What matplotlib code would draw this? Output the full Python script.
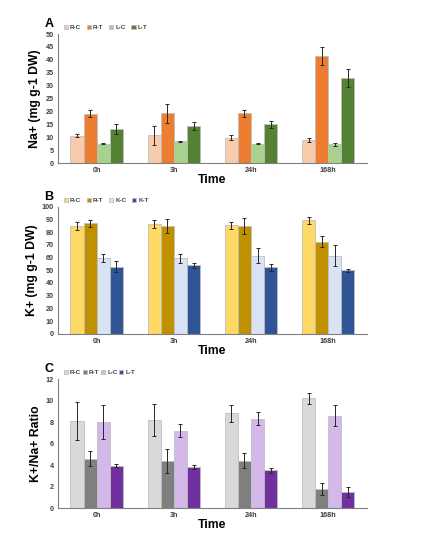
import matplotlib
matplotlib.use("Agg")
import matplotlib.pyplot as plt
import numpy as np

plt.rcParams['font.family'] = ['Liberation Sans', 'DejaVu Sans']

times = ["0h", "3h", "24h", "168h"]

# Panel A: Na+
na_labels = ["R-C", "R-T", "L-C", "L-T"]
na_vals = [
    [10.6, 10.7, 9.8, 8.9],
    [19.1, 19.3, 19.3, 41.4],
    [7.5, 8.4, 7.5, 7.2],
    [13.3, 14.4, 15.0, 32.8],
]
na_errs = [
    [0.6, 3.7, 0.9, 0.8],
    [1.4, 3.6, 1.4, 3.5],
    [0.2, 0.2, 0.3, 0.7],
    [1.9, 1.4, 1.3, 3.5],
]
na_colors = ["#F8CBAD", "#ED7D31", "#A9D18E", "#548235"]

# Panel B: K+
k_labels = ["R-C", "R-T", "K-C", "K-T"]
k_vals = [
    [84.9, 86.7, 85.4, 89.3],
    [86.9, 84.9, 84.9, 72.6],
    [59.5, 59.3, 61.4, 61.6],
    [52.7, 54.0, 52.2, 49.9],
]
k_errs = [
    [3.2, 3.2, 2.9, 2.9],
    [3.1, 5.7, 6.0, 4.2],
    [3.2, 3.9, 6.0, 8.4],
    [4.3, 1.9, 2.4, 1.3],
]
k_colors = ["#FFD966", "#BF9000", "#DAE3F3", "#2F5597"]

# Panel C: K+/Na+ ratio
r_labels = ["R-C", "R-T", "L-C", "L-T"]
r_vals = [
    [8.1, 8.2, 8.8, 10.2],
    [4.6, 4.4, 4.4, 1.76],
    [8.0, 7.2, 8.3, 8.6],
    [3.96, 3.8, 3.5, 1.5],
]
r_errs = [
    [1.8, 1.5, 0.8, 0.5],
    [0.7, 1.1, 0.7, 0.55],
    [1.6, 0.6, 0.6, 1.0],
    [0.15, 0.2, 0.25, 0.5],
]
r_colors = ["#D9D9D9", "#7F7F7F", "#D5B8EA", "#7030A0"]

fig = plt.figure(figsize=(4.27, 5.40), dpi=100)

panels = [
    ("A", [0.136, 0.698, 0.723, 0.239], na_labels, na_vals, na_errs, na_colors,
     "Na+ (mg g-1 DW)", 50, 5),
    ("B", [0.136, 0.382, 0.723, 0.235], k_labels, k_vals, k_errs, k_colors,
     "K+ (mg g-1 DW)", 100, 10),
    ("C", [0.136, 0.059, 0.723, 0.239], r_labels, r_vals, r_errs, r_colors,
     "K+/Na+ Ratio", 12, 2),
]

x = np.arange(len(times))
bw = 0.17
for letter, rect, labels, vals, errs, colors, ylab, ymax, ystep in panels:
    ax = fig.add_axes(rect)
    for i in range(4):
        ax.bar(x + (i - 1.5) * bw, vals[i], bw, yerr=errs[i], color=colors[i],
               edgecolor="#BFBFBF", linewidth=0.6, label=labels[i],
               error_kw=dict(ecolor="#262626", elinewidth=0.7, capsize=1.2, capthick=0.7))
    ax.set_xlim(-0.5, 3.5)
    ax.set_ylim(0, ymax)
    ax.set_yticks(np.arange(0, ymax + ystep / 2, ystep))
    ax.set_xticks(x)
    ax.set_xticklabels(times)
    ax.tick_params(length=0, labelsize=5.2, labelcolor="#404040", pad=3)
    for t in ax.get_xticklabels() + ax.get_yticklabels():
        t.set_fontweight("bold")
    for s in ["top", "right"]:
        ax.spines[s].set_visible(False)
    ax.spines["left"].set_color("#808080")
    ax.spines["bottom"].set_color("#808080")
    ax.spines["left"].set_linewidth(0.8)
    ax.spines["bottom"].set_linewidth(0.8)
    ax.set_ylabel(ylab, fontsize=8.8, fontweight="bold", labelpad=3)
    ax.set_xlabel("Time", fontsize=8.8, fontweight="bold", labelpad=0)
    ax.text(-0.03, 1.08, letter, transform=ax.transAxes, fontsize=9,
            fontweight="bold", ha="center", va="center")
    leg = ax.legend(loc="lower left", bbox_to_anchor=(0.01, 1.01), ncol=4, frameon=False,
                    fontsize=4.5, handlelength=0.7, handleheight=0.7,
                    handletextpad=0.3, columnspacing=0.9 if letter != "C" else 0.25,
                    borderaxespad=0.2, borderpad=0.2)
    for t in leg.get_texts():
        t.set_color("#404040")
        t.set_fontweight("bold")

fig.savefig("out.png", dpi=100)
